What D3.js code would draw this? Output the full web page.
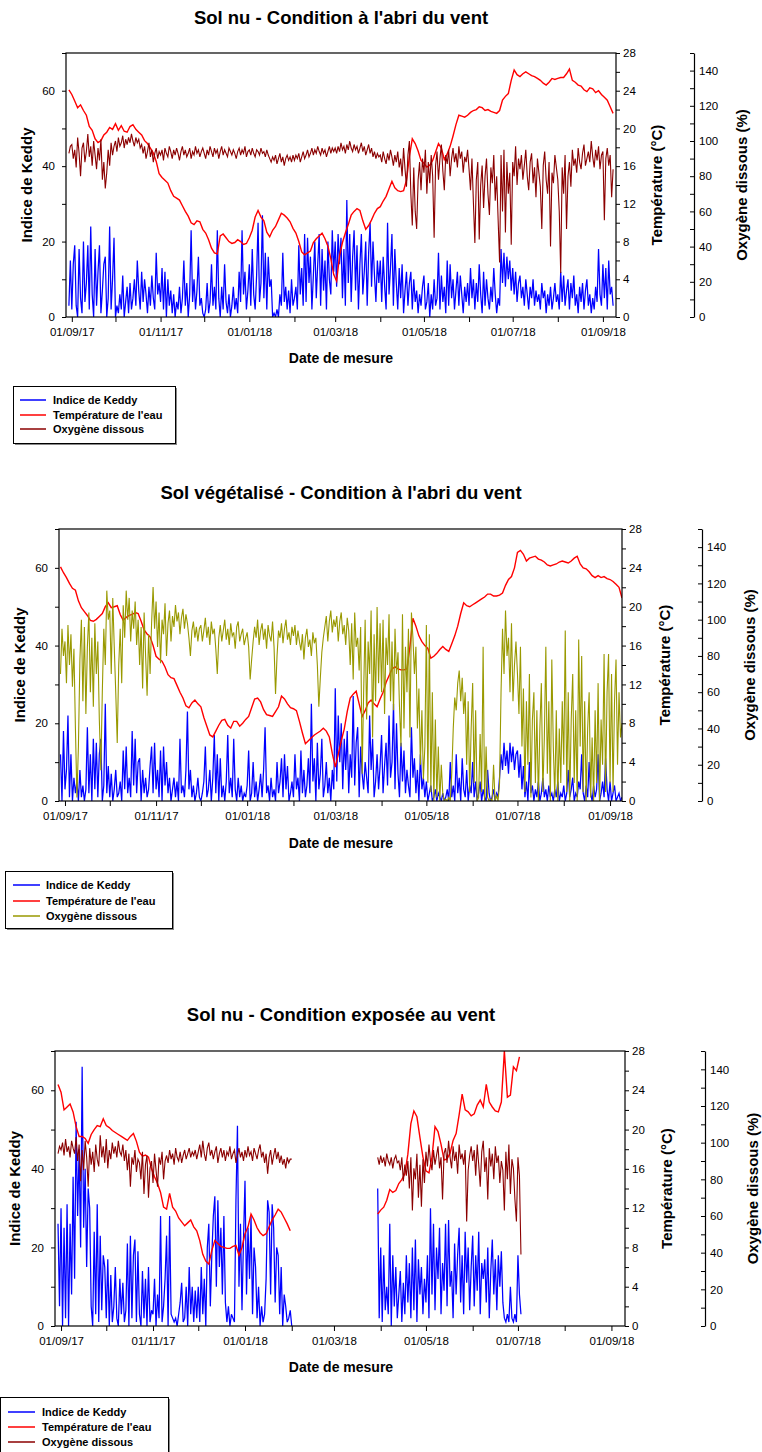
<!DOCTYPE html>
<html><head><meta charset="utf-8">
<script src="https://cdn.jsdelivr.net/npm/d3@7"></script>
<style>
body{margin:0;background:#fff}
svg{display:block}
text{font-family:Arial,"Liberation Sans",sans-serif;fill:#000}
</style>
</head><body>
<svg id="c" width="762" height="1452"></svg>
<script>
// ---------------- DATA ----------------
const titles = ["Sol nu - Condition à l'abri du vent","Sol végétalisé - Condition à l'abri du vent","Sol nu - Condition exposée au vent"];
const legendLabels = ["Indice de Keddy","Température de l'eau","Oxygène dissous"];
const keddyTicks = [0,20,40,60];
const tempTicks = [0,4,8,12,16,20,24,28];
const oxyTicks = [0,20,40,60,80,100,120,140];

// Panel 1 : daily Keddy from 30/08/2017
const keddy1 = [3,15,
 2,14,19,3,0,18,5,1,20,4,9,19,2,24,6,0,18,3,12,19,1,7,14,16,0,5,24,2,10,21,
 0,3,1,6,2,11,0,4,8,1,9,2,5,10,3,15,7,2,12,4,10,6,1,8,3,11,5,2,17,6,9,
 4,13,2,12,0,10,3,7,1,6,0,4,2,8,1,5,15,3,9,0,6,23,4,10,2,7,16,3,5,1,
 0,2,9,1,4,14,3,8,2,23,5,0,8,2,14,4,1,6,0,3,8,2,5,1,12,4,23,6,12,2,7,
 14,3,18,6,2,11,25,4,9,27,5,17,2,16,8,10,0,1,0,2,0,6,3,17,4,8,2,7,1,10,3,
 5,8,2,19,6,13,3,22,4,21,9,16,2,11,20,5,14,22,3,18,7,15,2,20,10,6,23,12,
 20,8,22,14,21,5,18,3,31,9,22,4,16,23,7,19,2,14,22,6,12,20,3,17,25,8,20,11,4,15,9,
 15,4,16,8,2,25,6,13,22,3,18,9,2,13,5,14,1,7,12,3,9,12,2,10,4,7,1,6,3,8,
 11,2,4,9,0,6,2,10,3,5,17,2,11,4,8,1,15,3,14,5,10,2,7,12,3,11,6,1,8,4,9,
 3,13,5,10,2,9,4,14,6,1,12,3,10,5,2,8,4,13,6,1,5,3,18,9,17,8,16,10,15,7,
 13,6,12,4,9,11,5,8,3,10,6,2,8,5,10,3,7,4,6,2,9,5,7,1,6,3,8,2,5,9,4,
 6,2,12,4,11,3,7,10,2,9,5,11,3,6,1,8,4,9,2,7,10,3,6,1,5,2,8,4,18,6,3,
 14,5,13,2,15,6,8,3];
// Panel 1 : daily dissolved oxygen (%) from 30/08/2017
const oxy1 = [93,97,
 98,90,95,85,102,93,80,96,99,88,94,104,91,97,86,100,92,84,96,89,101,78,88,73,82,95,86,99,92,97,
 100,94,102,97,99,103,96,101,98,102,99,104,100,97,102,99,101,96,98,93,97,90,94,99,91,95,88,93,96,90,94,
 92,95,89,96,93,91,97,94,90,95,92,96,93,89,94,97,92,95,91,93,96,90,94,92,97,93,95,91,94,96,
 93,90,95,92,97,94,91,96,93,95,90,94,97,92,95,93,91,96,94,92,95,93,90,94,96,92,95,93,97,91,94,
 95,92,96,93,91,95,94,92,96,93,94,91,95,92,90,88,91,89,92,87,90,93,88,91,86,90,92,89,91,88,92,
 89,92,90,93,88,91,94,90,92,95,91,93,96,92,95,93,97,94,92,96,93,95,91,94,97,93,96,94,
 96,93,97,94,99,95,97,93,98,95,100,96,94,98,95,97,93,96,99,94,97,92,95,98,93,96,91,94,90,93,91,
 92,88,94,90,87,93,89,95,91,86,92,88,94,85,90,80,96,84,74,92,100,70,52,85,60,50,78,88,72,90,
 82,95,70,88,76,92,80,45,86,94,78,90,98,83,72,92,87,95,80,90,96,88,93,85,97,90,94,82,91,88,95,
 84,72,90,65,42,78,88,44,75,86,62,80,90,70,58,85,76,92,66,80,55,31,92,60,95,48,88,70,82,41,
 88,80,97,75,90,84,92,78,86,95,80,72,88,93,76,85,68,90,82,74,50,86,94,78,70,88,40,82,76,92,85,
 78,60,25,85,70,92,50,80,88,74,95,86,90,82,96,88,84,93,98,86,90,94,88,100,91,85,95,89,97,84,92,
 94,55,90,96,86,92,68,84];
// Panel 1 : water temperature (°C) every 2 days from 30/08/2017
const temp1 = [24.1,
 23.6,22.9,22.2,22.5,21.9,21.4,20.2,19.8,18.9,18.5,18.7,19.3,19.6,20.1,19.9,
 20.5,19.8,20.3,19.7,19.6,20.2,20.4,19.9,19.6,19.3,18.7,18.4,17.9,17.4,16.5,15.2,
 14.8,14.5,14.2,13.4,12.8,12.6,12.4,11.8,11.2,10.7,10.0,9.8,10.2,10.1,9.3,
 8.9,8.2,7.3,6.8,6.7,8.6,8.8,8.4,8.0,7.8,7.9,8.2,8.0,7.7,7.8,
 8.4,9.2,10.6,11.3,10.6,10.2,9.0,8.5,9.2,9.6,10.3,11.0,10.8,10.5,10.1,9.4,
 8.9,8.0,6.9,6.6,6.8,7.0,7.9,8.3,8.6,8.9,8.3,7.5,6.2,4.5,
 3.8,6.5,7.9,8.9,9.8,10.8,11.2,11.5,11.3,10.2,9.3,9.7,10.3,11.0,11.5,
 11.7,12.3,12.8,13.6,14.4,13.7,13.4,13.3,13.4,14.5,17.0,18.9,18.4,17.6,16.6,
 16.3,15.9,16.1,16.6,17.5,18.4,17.9,16.7,17.3,18.1,19.2,20.4,21.4,21.3,21.2,21.4,
 21.7,21.9,22.0,22.3,22.2,21.9,22.0,21.8,21.7,21.6,21.9,23.0,23.4,23.7,25.1,
 26.2,25.7,25.5,25.8,26.0,25.8,25.6,25.5,25.3,25.1,24.8,24.6,24.9,25.3,25.2,
 25.3,25.4,25.4,25.8,26.3,25.1,24.9,24.6,24.5,24.1,23.9,24.3,24.2,23.8,24.0,23.6,
 23.3,23.0,22.3,21.6];

// Panel 2 : daily Keddy from 29/08/2017
const keddy2 = [12,0,18,
 3,8,22,1,12,0,6,2,5,0,8,1,4,0,3,19,2,12,0,16,3,15,1,12,16,0,4,25,2,9,
 1,7,0,3,8,1,2,5,0,13,3,14,2,6,1,18,4,16,2,10,11,0,8,2,6,1,3,9,14,2,15,
 3,8,1,13,0,14,4,10,2,6,0,3,6,1,5,0,16,2,4,1,8,23,3,8,1,4,0,2,6,1,
 0,2,5,14,1,3,8,0,6,17,2,12,0,11,1,4,0,5,17,2,6,1,16,3,0,6,1,4,0,2,1,
 4,13,0,2,10,1,5,0,3,7,1,8,19,2,4,0,6,1,3,0,10,2,5,11,1,12,3,9,0,2,5,
 1,12,3,6,0,13,2,8,1,4,11,2,25,5,11,0,15,3,7,16,1,4,10,2,6,0,8,3,
 29,5,22,10,20,3,16,8,18,2,12,6,27,4,15,19,1,14,7,3,10,6,2,22,8,16,1,5,12,3,9,
 17,2,9,15,4,22,6,10,25,3,20,7,1,15,5,13,2,8,4,1,19,6,11,2,8,0,12,3,6,1,
 5,0,2,4,0,1,3,0,2,1,0,2,0,1,3,0,10,1,4,0,12,2,6,0,11,3,1,8,0,4,2,
 10,1,5,0,2,5,0,3,1,0,8,2,0,1,3,0,2,1,6,12,8,15,9,13,7,15,10,14,8,12,
 13,6,12,3,9,1,5,0,10,2,4,0,3,1,5,0,2,6,1,3,0,4,1,2,0,3,1,5,0,2,1,
 4,0,2,8,1,3,6,0,2,1,5,3,12,2,0,4,1,10,2,0,4,1,3,12,0,2,5,1,11,3,0,
 5,0,2,4,0,1,2,0,1];
// Panel 2 : daily dissolved oxygen (%) from 29/08/2017
const oxy2 = [70,95,80,
 88,65,97,75,92,63,84,40,2,30,78,100,55,96,48,85,104,60,90,52,98,70,88,45,17,60,95,75,116,100,
 105,70,112,85,60,32,75,95,65,108,90,116,100,112,88,105,95,110,86,100,75,96,62,104,80,58,92,70,98,118,95,
 110,85,104,76,100,92,109,80,98,105,88,102,96,108,99,104,92,101,106,95,103,98,90,80,94,99,90,96,88,95,
 97,88,94,101,90,96,86,99,92,95,84,70,90,97,88,94,100,89,95,86,98,91,93,84,96,99,88,92,95,86,90,
 93,85,67,78,88,96,90,100,86,94,98,89,95,84,97,91,88,99,85,59,80,94,90,98,87,95,100,89,93,86,96,
 91,97,86,94,88,83,92,78,90,95,85,89,80,93,87,90,75,52,68,82,90,96,102,88,99,105,93,100,
 96,102,88,99,104,92,97,86,101,94,75,98,67,104,85,90,72,96,15,60,100,45,88,70,105,35,92,55,107,65,98,
 60,100,48,90,75,103,55,88,50,95,70,82,52,30,103,40,85,60,95,35,104,90,70,85,40,62,20,50,12,30,
 97,10,92,5,60,0,45,2,30,0,20,4,0,1,0,2,0,15,40,57,50,65,72,55,68,48,60,20,55,5,40,
 65,10,50,0,2,37,5,85,0,30,2,0,1,0,20,0,3,0,10,60,95,70,105,80,90,60,98,55,75,88,
 70,48,85,30,62,5,55,20,70,2,45,60,10,50,0,40,65,5,35,85,15,55,0,78,30,2,50,0,40,10,55,
 20,94,5,60,0,45,70,10,50,0,89,30,80,5,55,0,40,60,2,35,0,50,10,65,0,45,20,81,5,60,81,
 10,70,5,55,78,20,60,35,43];
// Panel 2 : water temperature (°C) every 2 days from 29/08/2017
const temp2 = [24.1,23.5,
 23.0,22.4,21.9,21.7,20.6,19.9,19.5,19.1,18.6,18.5,18.7,19.0,19.3,20.0,20.4,
 19.9,20.0,20.1,19.2,18.6,18.9,19.1,19.2,19.4,19.3,18.5,17.6,17.2,16.9,16.0,
 14.9,14.6,14.4,13.8,13.0,12.7,12.6,11.9,11.2,10.6,9.8,9.6,10.1,10.4,10.0,
 9.7,8.6,7.7,6.8,6.6,7.2,7.8,8.3,8.4,7.8,7.5,8.2,8.2,7.7,8.0,8.4,
 8.7,9.6,10.5,10.6,10.2,9.4,8.9,8.8,8.7,9.2,9.7,10.8,10.5,10.0,9.6,
 9.5,9.3,8.2,7.0,5.9,6.2,6.5,6.8,7.0,7.2,7.5,7.2,6.6,4.9,
 3.5,4.8,6.2,7.4,9.2,10.6,11.0,11.3,10.0,8.7,9.3,10.1,10.4,10.0,9.7,10.5,
 11.2,12.2,12.9,13.6,13.8,13.6,13.5,13.5,13.6,15.9,18.8,18.0,17.0,16.4,16.0,
 15.7,14.7,14.9,15.2,15.6,15.9,15.6,15.4,16.2,17.0,18.0,19.3,20.4,20.1,20.0,
 20.2,20.4,20.6,20.8,21.0,21.3,21.3,21.1,21.1,21.2,21.4,22.2,22.8,23.1,24.0,
 25.6,25.8,25.4,24.7,25.0,25.1,25.2,24.9,24.8,24.6,24.3,24.2,24.3,24.4,24.6,24.7,
 24.6,24.5,24.7,25.0,25.2,24.4,24.0,23.9,23.6,23.2,23.0,23.2,23.0,23.1,22.9,
 22.8,22.6,22.3,22.0,20.9];

// Panel 3, first period : daily from 30/08/2017
const keddy3a = [26,5,
 30,0,25,2,31,0,26,8,38,12,52,28,45,20,66,25,40,15,35,30,5,0,24,3,31,1,23,4,18,15,
 2,17,0,13,1,5,15,2,0,12,3,11,1,4,21,0,23,2,18,22,1,19,3,0,14,2,12,0,15,1,4,
 3,12,0,8,2,28,1,5,12,23,0,28,3,2,1,2,0,3,6,11,1,2,10,0,15,3,10,1,9,2,
 10,1,15,3,12,0,20,26,5,18,28,33,10,32,15,25,8,28,6,1,5,0,3,2,1,32,51,10,26,4,22,
 37,8,25,12,28,3,20,15,2,10,0,5,1,3,12,32,29,8,31,25,6,20,18,3,15,0,8,5,1,2,4,
 0];
const oxy3a = [94,98,
 96,100,93,102,95,98,92,101,97,94,103,90,99,79,96,85,101,92,76,97,88,95,84,99,91,87,104,92,98,89,
 102,86,96,91,100,94,98,92,101,95,93,99,90,96,85,94,76,92,88,96,84,91,89,80,95,72,88,93,70,86,90,
 78,94,85,76,92,88,95,80,90,93,89,96,91,94,88,97,92,90,95,89,93,96,91,94,97,92,95,93,96,91,
 95,99,92,101,94,90,97,100,93,96,91,95,98,89,94,97,92,96,90,95,93,98,91,94,96,89,93,97,92,95,90,
 96,92,98,93,95,90,97,94,91,96,99,92,95,89,94,83,92,96,88,93,97,91,95,89,93,88,91,86,92,89,91,
 91];
// every 2 days from 30/08/2017
const temp3a = [24.6,
 23.8,22.0,22.3,22.6,21.8,20.3,19.3,19.3,19.1,18.6,19.5,20.0,20.4,20.3,21.1,
 20.4,20.2,19.9,19.7,19.5,19.3,19.1,18.9,19.3,19.6,18.8,17.7,17.3,17.4,17.2,16.0,
 15.2,14.5,13.6,12.1,11.9,13.5,12.1,11.7,11.0,10.6,10.2,10.5,10.8,10.1,9.7,
 8.7,7.3,6.6,6.3,7.7,8.7,8.4,8.1,8.0,7.9,7.9,8.1,8.2,7.2,8.0,
 9.4,10.1,11.4,10.8,10.0,9.5,9.2,9.4,10.1,10.8,11.3,11.9,11.6,11.0,10.4,9.7];
// Panel 3, second period : daily from 30/03/2018
const keddy3b = [35,2,
 20,1,18,4,10,3,26,0,18,5,15,2,8,14,1,11,3,18,6,16,2,20,4,22,1,17,8,15,3,12,
 6,18,2,30,8,26,4,20,12,25,3,16,9,26,5,27,10,14,2,21,8,18,25,6,18,3,24,11,20,4,15,
 23,5,18,9,24,3,16,12,17,6,20,2,14,22,8,17,4,18,10,19,6,2,1,3,1,10,2,1,3,1,
 18,8,3];
const oxy3b = [92,88,
 93,89,92,87,94,90,88,92,86,91,93,89,90,85,92,79,88,82,90,75,92,63,86,80,94,70,88,65,91,78,
 95,87,99,90,85,96,88,93,98,86,92,69,94,97,89,101,92,86,98,90,95,83,99,91,94,88,96,57,85,93,98,
 90,96,82,99,88,76,95,101,84,92,69,97,87,94,80,98,89,93,78,90,85,63,95,80,99,72,91,86,69,57,
 92,82,39];
// every 2 days from 30/03/2018
const temp3b = [11.4,
 11.8,12.1,12.8,13.9,13.6,13.8,14.5,14.9,15.5,17.5,20.6,21.9,21.3,19.2,17.2,
 15.8,15.6,17.2,20.3,19.8,18.5,16.9,17.0,17.6,18.9,19.6,21.5,23.6,22.0,21.8,21.4,
 21.6,22.5,23.0,22.3,24.6,22.8,22.3,21.9,21.8,22.8,28.0,23.3,23.5,26.4,26.0,
 27.4];

// ---------------- LAYOUT ----------------
const seriesSets = [
  [{start:new Date(2017,7,30), k:keddy1, o:oxy1, t:temp1}],
  [{start:new Date(2017,7,29), k:keddy2, o:oxy2, t:temp2}],
  [{start:new Date(2017,7,30), k:keddy3a, o:oxy3a, t:temp3a},
   {start:new Date(2018,2,30), k:keddy3b, o:oxy3b, t:temp3b}]
];
const layouts = [
  {left:66, top:53, right:616, bottom:317, d0:new Date(2017,7,28), d1:new Date(2018,8,10),
   oxX:694, titleY:24, kTX:27, tTX:657, oTX:742, xTY:363, oxColor:"#8b0000",
   lg:{x:13,y:386,w:162,h:57,l0:20,l1:46,tx:53,rows:[400,415,429]}},
  {left:59, top:529, right:622, bottom:801, d0:new Date(2017,7,28), d1:new Date(2018,8,9),
   oxX:702, titleY:499, kTX:20, tTX:665, oTX:750, xTY:848, oxColor:"#999900",
   lg:{x:5,y:871,w:167,h:57,l0:13,l1:40,tx:46,rows:[885,901,916]}},
  {left:55, top:1051, right:625, bottom:1326, d0:new Date(2017,7,28), d1:new Date(2018,8,10),
   oxX:705, titleY:1021, kTX:15, tTX:667, oTX:753, xTY:1372, oxColor:"#8b0000",
   lg:{x:0,y:1397,w:168,h:58,l0:8,l1:35,tx:42,rows:[1412,1427,1442]}}
];

const svg = d3.select("#c");
const fmt = d3.timeFormat("%d/%m/%y");
const months = d3.timeMonth.range(new Date(2017,8,1), new Date(2018,8,2));
const pts = (start, vals, step) => vals.map((v,i) => ({d:d3.timeDay.offset(start, i*step), v}));

layouts.forEach((L, pi) => {
  const g = svg.append("g");
  const x = d3.scaleTime().domain([L.d0, L.d1]).range([L.left, L.right]);
  const yK = d3.scaleLinear().domain([0,70]).range([L.bottom, L.top]);
  const yT = d3.scaleLinear().domain([0,28]).range([L.bottom, L.top]);
  const yO = d3.scaleLinear().domain([0,150]).range([L.bottom, L.top]);
  const cid = "clip"+pi;
  g.append("clipPath").attr("id",cid).append("rect")
    .attr("x",L.left).attr("y",L.top).attr("width",L.right-L.left).attr("height",L.bottom-L.top);
  const plot = g.append("g").attr("clip-path",`url(#${cid})`);
  const colors = ["#0000ff","#ff0000",L.oxColor];

  seriesSets[pi].forEach(s => {
    const kp = pts(s.start, s.k, 1), op = pts(s.start, s.o, 1), tp = pts(s.start, s.t, 2);
    plot.append("path").datum(kp).attr("fill","none").attr("stroke",colors[0]).attr("stroke-width",1.25)
      .attr("d", d3.line().x(p=>x(p.d)).y(p=>yK(p.v)));
    plot.append("path").datum(tp).attr("fill","none").attr("stroke",colors[1]).attr("stroke-width",1.4)
      .attr("d", d3.line().x(p=>x(p.d)).y(p=>yT(p.v)));
    plot.append("path").datum(op).attr("fill","none").attr("stroke",colors[2]).attr("stroke-width",1.1)
      .attr("d", d3.line().x(p=>x(p.d)).y(p=>yO(p.v)));
  });

  // frame
  g.append("rect").attr("x",L.left).attr("y",L.top).attr("width",L.right-L.left).attr("height",L.bottom-L.top)
    .attr("fill","none").attr("stroke","#000").attr("stroke-width",1.2);

  const styleAxis = a => { a.selectAll("text").style("font-size","11.5px").style("font-family","Arial, 'Liberation Sans', sans-serif");
    a.selectAll("line").attr("stroke","#000"); };

  const xa = g.append("g").attr("transform",`translate(0,${L.bottom})`)
    .call(d3.axisBottom(x).tickValues(months).tickSize(5).tickPadding(6)
      .tickFormat(d => d.getMonth()%2===0 ? fmt(d) : ""));
  xa.select(".domain").remove(); styleAxis(xa);

  const ya = g.append("g").attr("transform",`translate(${L.left},0)`)
    .call(d3.axisLeft(yK).tickValues(d3.range(0,71,10)).tickSize(4).tickPadding(7)
      .tickFormat(d => keddyTicks.includes(d) ? d : ""));
  ya.select(".domain").remove(); styleAxis(ya);

  const ta = g.append("g").attr("transform",`translate(${L.right},0)`)
    .call(d3.axisRight(yT).tickValues(d3.range(0,29,2)).tickSize(4).tickPadding(3)
      .tickFormat(d => tempTicks.includes(d) ? d : ""));
  ta.select(".domain").remove(); styleAxis(ta);

  const oa = g.append("g").attr("transform",`translate(${L.oxX},0)`)
    .call(d3.axisRight(yO).tickValues(d3.range(0,151,10)).tickSizeInner(-4).tickSizeOuter(0).tickPadding(5)
      .tickFormat(d => oxyTicks.includes(d) ? d : ""));
  oa.select(".domain").attr("stroke","#000").attr("stroke-width",1.2); styleAxis(oa);

  // titles
  g.append("text").attr("x",341).attr("y",L.titleY).attr("text-anchor","middle")
    .style("font-size","18.5px").style("font-weight","bold").text(titles[pi]);
  g.append("text").attr("x",341).attr("y",L.xTY).attr("text-anchor","middle")
    .style("font-size","14px").style("font-weight","bold").text("Date de mesure");
  const cy = (L.top+L.bottom)/2;
  [[L.kTX,"Indice de Keddy"],[L.tTX,"Température (°C)"],[L.oTX,"Oxygène dissous (%)"]].forEach(([tx,lab]) => {
    g.append("text").attr("transform",`translate(${tx},${cy}) rotate(-90)`).attr("dy","0.35em")
      .attr("text-anchor","middle").style("font-size","15px").style("font-weight","bold").text(lab);
  });

  // legend
  const lg = L.lg;
  g.append("rect").attr("x",lg.x+2).attr("y",lg.y+2).attr("width",lg.w).attr("height",lg.h).attr("fill","#888");
  g.append("rect").attr("x",lg.x+0.5).attr("y",lg.y+0.5).attr("width",lg.w).attr("height",lg.h)
    .attr("fill","#fff").attr("stroke","#000").attr("stroke-width",1);
  legendLabels.forEach((lab,i) => {
    g.append("line").attr("x1",lg.l0).attr("x2",lg.l1).attr("y1",lg.rows[i]).attr("y2",lg.rows[i])
      .attr("stroke",colors[i]).attr("stroke-width",1.5);
    g.append("text").attr("x",lg.tx).attr("y",lg.rows[i]).attr("dy","0.35em")
      .style("font-size","11px").style("font-weight","bold").text(lab);
  });
});
</script>
</body></html>
